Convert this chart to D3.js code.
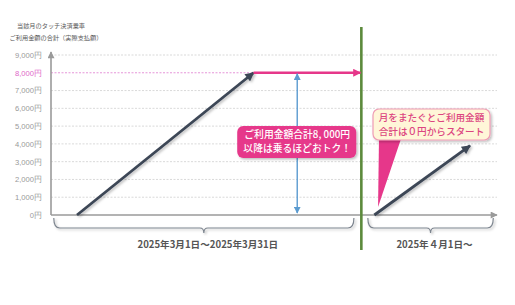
<!DOCTYPE html>
<html>
<head>
<meta charset="utf-8">
<title>当該月のタッチ決済乗車 ご利用金額の合計</title>
<script src="https://d3js.org/d3.v7.min.js"></script>
<style>
  body { margin: 0; background: #fff; }
  svg { font-family: "Noto Sans CJK JP", "Noto Sans", sans-serif; }
</style>
</head>
<body>
<svg width="515" height="305"></svg>
<script>
// y軸の目盛
var yTicks = [0, 1000, 2000, 3000, 4000, 5000, 6000, 7000, 8000, 9000];
var yTickLabels = ["0円", "1,000円", "2,000円", "3,000円", "4,000円", "5,000円", "6,000円", "7,000円", "8,000円", "9,000円"];
var capYen = 8000;

// 利用金額の推移（日, 円）
var march = [{ day: 1, yen: 0 }, { day: 20, yen: 8000 }];
var capLine = [{ day: 20, yen: 8000 }, { day: 31.5, yen: 8000 }];
var april = [{ day: 33, yen: 0 }, { day: 43.3, yen: 3900 }];
var monthEnd = 31.6;

// 期間ラベル
var periodLabels = ["2025年3月1日～2025年3月31日", "2025年４月1日～"];
var periodFrom = [-1.5, 32.3];
var periodTo = [30.8, 45.8];

var svg = d3.select("svg");
var x = d3.scaleLinear().domain([-1.8, 46.2]).range([51, 497]);
var y = d3.scaleLinear().domain([0, 9000]).range([215, 55]);
var line = d3.line().x(function (d) { return x(d.day); }).y(function (d) { return y(d.yen); });

var defs = svg.append("defs");
function marker(id, color, w, h, orient) {
    defs.append("marker")
        .attr("id", id).attr("markerUnits", "userSpaceOnUse")
        .attr("viewBox", "0 0 10 10").attr("refX", 9).attr("refY", 5)
        .attr("markerWidth", w).attr("markerHeight", h)
        .attr("orient", orient || "auto")
        .append("path").attr("d", "M0,0 L10,5 L0,10 Z").attr("fill", color);
}
marker("aDark", "#3c4656", 10, 9);
marker("aPink", "#e6378a", 9, 8);
marker("aBlue", "#5b9bd0", 7, 7, "auto-start-reverse");
marker("aGray", "#9a9a9a", 8, 7);
var f = defs.append("filter").attr("id", "sh").attr("x", "-20%").attr("y", "-20%").attr("width", "140%").attr("height", "140%");
f.append("feDropShadow").attr("dx", 1.5).attr("dy", 1.5).attr("stdDeviation", 1).attr("flood-color", "#000").attr("flood-opacity", 0.25);

// タイトル
svg.append("text").attr("x", 51).attr("y", 28).attr("text-anchor", "middle")
    .attr("font-size", 6.2).attr("fill", "#5a5a5a").text("当該月のタッチ決済乗車");
svg.append("text").attr("x", 56).attr("y", 40).attr("text-anchor", "middle")
    .attr("font-size", 6.2).attr("fill", "#5a5a5a").text("ご利用金額の合計（実際支払額）");

// グリッド線
svg.append("g").selectAll("line").data(yTicks.filter(function (d) { return d > 0; }))
    .enter().append("line")
    .attr("x1", x(-1.8)).attr("x2", function (d) { return d === capYen ? x(20) : x(46.2); })
    .attr("y1", function (d) { return y(d); }).attr("y2", function (d) { return y(d); })
    .attr("stroke", function (d) { return d === capYen ? "#e07ad0" : "#cfcfcf"; })
    .attr("stroke-width", 0.8).attr("stroke-dasharray", "2,1.5");

// y軸ラベル
var yAxis = svg.append("g").attr("transform", "translate(" + x(-1.8) + ",0)")
    .call(d3.axisLeft(y).tickValues(yTicks)
        .tickFormat(function (d, i) { return yTickLabels[i]; })
        .tickSize(0).tickPadding(9));
yAxis.select(".domain").remove();
yAxis.selectAll("text").attr("font-size", 7.6).attr("font-family", null)
    .attr("fill", function (d) { return d === capYen ? "#e066c8" : "#999"; });

// 軸
svg.append("line").attr("x1", x(-1.8)).attr("x2", x(46.2)).attr("y1", y(0)).attr("y2", y(0))
    .attr("stroke", "#9a9a9a").attr("stroke-width", 1.6).attr("marker-end", "url(#aGray)");
svg.append("line").attr("x1", x(-1.8)).attr("x2", x(-1.8)).attr("y1", y(0)).attr("y2", y(9000) - 3)
    .attr("stroke", "#9a9a9a").attr("stroke-width", 1.6).attr("marker-end", "url(#aGray)");

// 月の境目
svg.append("line").attr("x1", x(monthEnd)).attr("x2", x(monthEnd)).attr("y1", 27).attr("y2", 250)
    .attr("stroke", "#5c8a3c").attr("stroke-width", 2.6);

// 利用金額の線
svg.append("path").datum(march).attr("d", line).attr("fill", "none")
    .attr("stroke", "#3c4656").attr("stroke-width", 2.8).attr("filter", "url(#sh)")
    .attr("marker-end", "url(#aDark)");
svg.append("path").datum(april).attr("d", line).attr("fill", "none")
    .attr("stroke", "#3c4656").attr("stroke-width", 2.8).attr("filter", "url(#sh)")
    .attr("marker-end", "url(#aDark)");
svg.append("path").datum(capLine).attr("d", line).attr("fill", "none")
    .attr("stroke", "#e6378a").attr("stroke-width", 2.4).attr("marker-end", "url(#aPink)");

// 青い両矢印
var bx = x(24.7);
svg.append("line").attr("x1", bx).attr("x2", bx).attr("y1", y(capYen) + 1).attr("y2", y(0) - 2)
    .attr("stroke", "#5b9bd0").attr("stroke-width", 1.4)
    .attr("marker-start", "url(#aBlue)").attr("marker-end", "url(#aBlue)");

// ピンクの吹き出し
var pc = svg.append("g").attr("filter", "url(#sh)");
pc.append("rect").attr("x", bx - 60).attr("y", 126).attr("width", 119).attr("height", 32)
    .attr("rx", 6).attr("fill", "#e6378a");
svg.append("text").attr("x", bx).attr("y", 138).attr("text-anchor", "middle").attr("fill", "#fff")
    .attr("font-size", 9.8).attr("font-weight", 500).text("ご利用金額合計8, 000円");
svg.append("text").attr("x", bx).attr("y", 152).attr("text-anchor", "middle").attr("fill", "#fff")
    .attr("font-size", 9.8).attr("font-weight", 500).text("以降は乗るほどおトク！");

// 黄色の吹き出し
svg.append("path")
    .attr("d", "M" + (x(33.5)) + "," + 138 + " L" + (x(35.9)) + "," + 138 + " L" + (x(33.4)) + "," + 207 + " Z")
    .attr("fill", "#e6378a");
var yc = svg.append("g").attr("filter", "url(#sh)");
yc.append("rect").attr("x", 373).attr("y", 109).attr("width", 117).attr("height", 31)
    .attr("rx", 6).attr("fill", "#fff6d8").attr("stroke", "#ef9cb5").attr("stroke-width", 1.2);
svg.append("text").attr("x", 431.5).attr("y", 121).attr("text-anchor", "middle").attr("fill", "#dc4580")
    .attr("font-size", 9.6).attr("font-weight", 500).text("月をまたぐとご利用金額");
svg.append("text").attr("x", 431.5).attr("y", 135).attr("text-anchor", "middle").attr("fill", "#dc4580")
    .attr("font-size", 9.6).attr("font-weight", 500).text("合計は０円からスタート");

// 期間の括弧とラベル
periodLabels.forEach(function (label, i) {
    var x0 = x(periodFrom[i]), x1 = x(periodTo[i]), m = (x0 + x1) / 2;
    var top = 218, mid = 228;
    svg.append("path")
        .attr("d", "M" + x0 + "," + top + " Q" + x0 + "," + mid + " " + (x0 + 6) + "," + mid +
            " L" + (m - 4) + "," + mid + " Q" + m + "," + mid + " " + m + "," + (mid + 5) +
            " Q" + m + "," + mid + " " + (m + 4) + "," + mid +
            " L" + (x1 - 6) + "," + mid + " Q" + x1 + "," + mid + " " + x1 + "," + top)
        .attr("fill", "none").attr("stroke", "#7d858f").attr("stroke-width", 1.2)
        .attr("filter", "url(#sh)");
    svg.append("text").attr("x", m + 4).attr("y", 248).attr("text-anchor", "middle")
        .attr("font-size", 9.6).attr("font-weight", "bold").attr("fill", "#555").text(label);
});
</script>
</body>
</html>
